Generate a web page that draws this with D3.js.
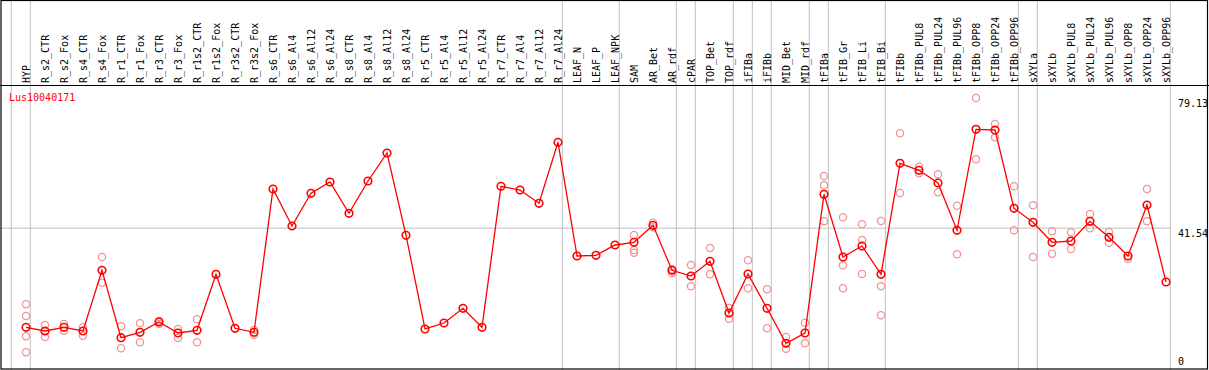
<!DOCTYPE html>
<html><head><meta charset="utf-8">
<script src="https://cdn.jsdelivr.net/npm/d3@7"></script>
<style>body{margin:0;background:#fff}svg{display:block}text{font-family:"DejaVu Sans Mono","Liberation Mono",monospace;font-size:10px}</style>
</head><body><svg id="c" width="1209" height="370"></svg>
<script>
const categories = ["HYP","R_s2_CTR","R_s2_Fox","R_s4_CTR","R_s4_Fox","R_r1_CTR","R_r1_Fox","R_r3_CTR","R_r3_Fox","R_r1s2_CTR","R_r1s2_Fox","R_r3s2_CTR","R_r3s2_Fox","R_s6_CTR","R_s6_Al4","R_s6_Al12","R_s6_Al24","R_s8_CTR","R_s8_Al4","R_s8_Al12","R_s8_Al24","R_r5_CTR","R_r5_Al4","R_r5_Al12","R_r5_Al24","R_r7_CTR","R_r7_Al4","R_r7_Al12","R_r7_Al24","LEAF_N","LEAF_P","LEAF_NPK","SAM","AR_Bet","AR_rdf","cPAR","TOP_Bet","TOP_rdf","iFIBa","iFIBb","MID_Bet","MID_rdf","tFIBa","tFIB_Gr","tFIB_Li","tFIB_Bi","tFIBb","tFIBb_PUL8","tFIBb_PUL24","tFIBb_PUL96","tFIBb_OPP8","tFIBb_OPP24","tFIBb_OPP96","sXYLa","sXYLb","sXYLb_PUL8","sXYLb_PUL24","sXYLb_PUL96","sXYLb_OPP8","sXYLb_OPP24","sXYLb_OPP96"];
const means = [12.91,11.84,12.91,11.84,29.37,9.91,11.47,14.44,11.26,12.04,28.22,12.62,11.47,52.85,42.17,51.61,54.87,45.83,55.16,63.25,39.48,12.42,14.15,18.40,12.91,53.63,52.56,48.72,66.34,33.50,33.70,36.68,37.46,42.37,29.37,27.72,31.97,17.04,28.30,18.40,8.29,11.26,51.32,33.21,36.39,28.22,60.27,58.25,54.58,40.92,70.09,69.89,47.28,43.23,37.46,37.83,43.52,38.90,33.50,48.23,25.99];
const replicates = [[19.55,16.17,10.31,5.69],[13.57,10.11],[13.86,11.93],[12.91,10.48],[33.21,25.79],[13.20,6.84],[14.06,8.58],[14.82,13.86],[12.42,9.82],[15.22,8.58],[],[],[12.13,10.77],[],[],[],[],[],[],[],[],[],[],[],[],[],[],[],[],[],[],[],[39.57,35.23,34.45],[43.12,41.79],[29.66,28.59],[30.90,24.75],[35.81,28.22],[18.48,15.39],[32.26,24.17],[23.88,12.62],[10.11,6.73],[14.24,8.29],[56.60,53.92,43.52],[44.68,30.82,24.17],[42.66,38.12,28.30],[43.61,24.75,16.37],[68.94,51.70],[59.29,57.38],[57.10,51.90],[48.03,33.99],[79.13,61.43],[71.62,67.78],[53.63,40.92],[48.14,33.21],[40.63,34.17],[40.35,35.52],[45.63,41.50],[40.43,37.34],[32.72],[52.85,43.52],[]];
// first category index of each group (vertical separators)
const groupStarts = ["HYP","R_s2_CTR","LEAF_N","SAM","cPAR","TOP_Bet","iFIBa","iFIBb","MID_Bet","tFIBa","tFIB_Gr","tFIBb","sXYLa","sXYLb"];
const yTickValues = [79.13, 41.54, 0];
const yTickLabels = ["79.13","41.54","0"];
const geneName = "Lus10040171";

const svg = d3.select("#c");
const W = 1209, H = 370;
const x = d3.scaleBand().domain(categories).range([11.3, 11.3 + 19*categories.length]).paddingInner(0).paddingOuter(0);
const px = d => x(d) + 14.7;
const y = d3.scaleLinear().domain([0, 79.13]).range([372, 98]);
const plotRight = x.range()[1];

// grid lines
svg.append("g").selectAll("line").data(groupStarts).join("line")
  .attr("x1", d => x(d)).attr("x2", d => x(d)).attr("y1", 0).attr("y2", H)
  .attr("stroke", "#c0c0c0").attr("stroke-width", 1);
svg.append("line").attr("x1", plotRight).attr("x2", plotRight).attr("y1", 0).attr("y2", H)
  .attr("stroke", "#c0c0c0");
svg.append("line").attr("x1", 0).attr("x2", plotRight).attr("y1", y(41.54)).attr("y2", y(41.54))
  .attr("stroke", "#c0c0c0");

// frame
svg.append("rect").attr("x", 1).attr("y", 0.5).attr("width", W - 2.5).attr("height", H - 1.5)
  .attr("fill", "none").attr("stroke", "#000").attr("stroke-width", 1.2);
svg.append("line").attr("x1", 0).attr("x2", W).attr("y1", 85.5).attr("y2", 85.5).attr("stroke", "#000").attr("stroke-width", 1.2);

// category labels
svg.append("g").selectAll("text").data(categories).join("text")
  .attr("transform", d => `translate(${px(d) + 4},83) rotate(-90)`)
  .attr("fill", "#000").text(d => d);

// gene name
svg.append("text").attr("x", 9).attr("y", 101).attr("fill", "#ff0000").text(geneName);

// y labels
svg.append("g").selectAll("text").data(yTickValues).join("text")
  .attr("x", 1178)
  .attr("y", (d, i) => i === 2 ? 365 : y(d) + 9)
  .attr("fill", "#000").text((d, i) => yTickLabels[i]);

// replicates
const repPts = [];
replicates.forEach((arr, i) => arr.forEach(v => repPts.push({c: categories[i], v})));
svg.append("g").selectAll("circle").data(repPts).join("circle")
  .attr("cx", d => px(d.c)).attr("cy", d => y(d.v)).attr("r", 3.6)
  .attr("fill", "none").attr("stroke", "#f09494").attr("stroke-width", 1.3);

// mean line
const data = categories.map((c, i) => ({c, v: means[i]}));
svg.append("path").datum(data)
  .attr("d", d3.line().x(d => px(d.c)).y(d => y(d.v)))
  .attr("fill", "none").attr("stroke", "#ff0000").attr("stroke-width", 1.3);
svg.append("g").selectAll("circle").data(data).join("circle")
  .attr("cx", d => px(d.c)).attr("cy", d => y(d.v)).attr("r", 3.8)
  .attr("fill", "none").attr("stroke", "#ff0000").attr("stroke-width", 1.6);
</script></body></html>
